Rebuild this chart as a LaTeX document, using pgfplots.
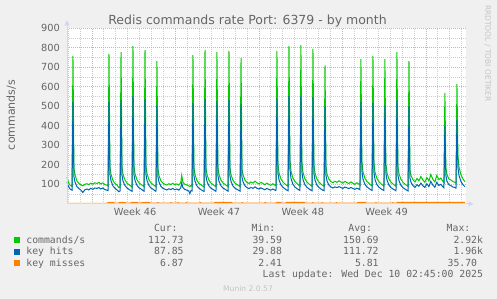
\documentclass[border=0pt]{standalone}
\usepackage{fontspec}
\setmainfont{DejaVu Sans}
\newfontfamily\monofont{DejaVu Sans Mono}
\usepackage{pgfplots}
\usepackage{pgfplotstable}
\pgfplotsset{compat=1.18}
\usetikzlibrary{arrows.meta}
\definecolor{bggray}{HTML}{F0F0F0}
\definecolor{fontgray}{HTML}{666666}
\definecolor{axiscol}{HTML}{CFD6F8}
\definecolor{cmdgreen}{HTML}{00CC00}
\definecolor{hitblue}{HTML}{0066B3}
\definecolor{missorange}{HTML}{FF8000}
\definecolor{mgrid}{HTML}{EBA5A5}
\definecolor{sgrid}{HTML}{CDCDCD}
\definecolor{wmgray}{HTML}{C4C4C4}

\pgfplotstableread{
x cmd hits
0.00 137 112
0.08 118 95
0.17 104 84
0.25 96 76
0.33 92 73
0.42 89 70
0.50 758 523
0.58 183 139
0.67 150 112
0.83 118 88
1.00 104 78
1.17 97 70
1.33 92 58
1.50 100 72
1.67 103 76
1.83 98 71
2.00 106 80
2.17 101 74
2.33 108 81
2.50 104 79
2.67 110 83
2.83 102 76
3.00 107 81
3.17 99 73
3.33 96 70
3.44 92 68
3.52 768 523
3.60 190 150
3.69 152 118
3.85 120 92
4.02 104 80
4.19 96 71
4.35 83 62
4.45 88 66
4.53 778 532
4.61 188 146
4.70 150 115
4.86 122 94
5.03 106 81
5.20 98 74
5.36 90 67
5.45 86 64
5.53 809 553
5.61 195 152
5.70 155 120
5.86 124 95
6.03 108 82
6.20 100 76
6.37 92 68
6.46 88 65
6.54 788 537
6.62 192 150
6.71 154 119
6.87 123 94
7.04 107 81
7.21 99 75
7.37 91 67
7.46 87 64
7.54 732 505
7.62 180 140
7.71 145 112
7.87 118 90
8.04 106 80
8.21 100 75
8.37 96 71
8.54 103 77
8.71 99 73
8.87 105 79
9.04 98 72
9.21 102 76
9.37 96 70
9.54 110 82
9.62 146 108
9.71 112 84
9.87 100 74
10.04 97 70
10.21 92 66
10.30 88 52
10.40 95 68
10.48 90 66
10.56 763 518
10.64 185 144
10.73 150 116
10.89 120 92
11.06 105 80
11.23 98 73
11.39 90 66
11.49 87 64
11.57 788 537
11.65 182 142
11.74 148 114
11.90 121 92
12.07 106 80
12.24 99 74
12.40 91 67
12.49 87 64
12.57 778 527
12.65 186 145
12.74 150 116
12.90 122 93
13.07 107 81
13.24 100 75
13.41 92 68
13.50 88 65
13.58 783 532
13.66 184 143
13.75 149 115
13.91 121 92
14.08 106 80
14.25 99 74
14.42 92 68
14.51 88 65
14.59 748 512
14.67 176 136
14.76 148 112
14.92 122 92
15.09 110 83
15.26 104 78
15.42 112 84
15.59 106 79
15.76 116 87
15.92 108 80
16.09 102 76
16.26 110 82
16.42 104 77
16.59 98 72
16.76 106 79
16.92 100 74
17.09 95 70
17.26 103 76
17.42 96 70
17.52 92 68
17.60 783 539
17.68 205 160
17.77 160 124
17.93 128 97
18.10 112 85
18.27 102 77
18.43 94 70
18.53 90 67
18.61 809 553
18.69 224 175
18.78 168 130
18.94 132 100
19.11 114 86
19.28 104 78
19.44 95 71
19.53 91 68
19.61 814 555
19.69 209 164
19.78 162 126
19.94 129 98
20.11 112 85
20.28 102 77
20.45 94 70
20.54 90 67
20.62 794 547
20.70 200 156
20.79 158 122
20.95 127 96
21.12 111 84
21.29 101 76
21.46 93 69
21.55 90 67
21.63 710 500
21.71 190 146
21.80 152 117
21.96 126 95
22.13 114 86
22.30 108 81
22.46 116 87
22.63 110 83
22.80 118 88
22.96 112 84
23.13 106 79
23.30 115 86
23.46 109 82
23.63 104 78
23.80 112 84
23.96 106 79
24.13 100 74
24.30 108 80
24.46 102 76
24.56 96 72
24.64 742 523
24.72 216 168
24.81 165 128
24.97 132 100
25.14 115 87
25.31 105 79
25.47 96 72
25.57 92 69
25.65 758 518
25.73 209 162
25.82 162 125
25.98 130 98
26.15 113 85
26.32 103 77
26.48 95 71
26.57 91 68
26.65 742 505
26.73 205 160
26.82 160 123
26.98 128 97
27.15 112 84
27.32 102 76
27.49 94 70
27.58 90 67
27.66 778 530
27.74 190 148
27.83 155 119
27.99 126 95
28.16 111 83
28.33 101 76
28.50 93 69
28.59 89 66
28.67 732 500
28.75 172 132
28.84 145 110
29.00 124 93
29.17 112 84
29.34 130 98
29.50 118 90
29.67 140 106
29.84 122 92
30.00 110 84
30.17 135 103
30.34 117 88
30.50 150 115
30.67 126 96
30.84 112 85
31.00 145 110
31.17 124 94
31.34 132 100
31.50 116 88
31.60 108 82
31.68 568 400
31.76 186 146
31.85 150 116
32.01 128 98
32.18 122 93
32.35 114 86
32.52 110 84
32.61 106 80
32.69 614 430
32.77 250 190
32.86 190 146
33.02 150 115
33.19 128 98
33.36 113 88
}\cmdtable

\pgfplotstableread{
x miss
0.0 2.4
3.3 2.6
3.5 7
3.9 7
4.0 3
4.3 3
4.4 7
4.9 6.5
5.0 3
5.3 3
5.4 7
5.9 7
6.0 3
6.4 6.5
6.9 7
7.0 3
7.5 3
7.6 6
7.8 3
8.6 3
8.7 6
8.8 3
9.2 3
9.3 6
9.4 3
9.9 3
10.0 6
10.1 3
11.1 3
11.2 6
11.3 3
12.3 3
12.4 7
13.8 7
13.9 3
14.6 3
14.7 6
14.8 3
16.5 3
16.6 6
16.8 3
17.5 3
17.6 7
17.9 7
18.0 3
18.3 3
18.4 7
19.9 7
20.0 3
20.5 3
20.6 6
20.7 3
21.3 3
21.4 6
21.5 3
22.5 3
22.6 6
22.7 3
24.3 3
24.4 7
25.0 7
25.1 3
25.8 3
25.9 6
26.0 3
27.2 3
27.3 6
27.4 3
27.6 3
27.7 7
29.0 7.5
30.5 7
31.5 7.5
33.36 6.9
}\misstable

\begin{document}
\begin{tikzpicture}[x=1pt,y=1pt]
\fill[bggray] (0,0) rectangle (497,299);
\begin{axis}[
  at={(67pt,95.2pt)}, anchor=south west,
  scale only axis, width=399pt, height=175.5pt,
  xmin=0, xmax=33.45, ymin=0, ymax=900,
  clip=false,
  axis background/.style={fill=white},
  axis line style={draw=none},
  xtick={2.1,9.1,16.1,23.1,30.1}, xticklabels={},
  minor xtick={0.1,1.1,...,33.1},
  ytick={100,200,...,900},
  minor ytick={50,150,...,850},
  grid=both,
  major grid style={mgrid, line width=1pt, dash pattern=on 1pt off 1pt},
  minor grid style={sgrid, line width=1pt, dash pattern=on 1pt off 1pt},
  tick style={draw=none},
  extra x ticks={5.71,12.74,19.77,26.8},
  extra x tick labels={Week 46,Week 47,Week 48,Week 49},
  extra x tick style={grid=none, tick style={draw=none}},
  ticklabel style={font=\fontsize{9.8}{10}\selectfont, text=fontgray},
  yticklabel style={inner sep=0pt, xshift=-7pt},
  xticklabel style={inner sep=0pt, yshift=-4.5pt},
  /pgf/number format/assume math mode=true,
]
\addplot[cmdgreen, line width=1pt, no markers] table[x=x, y=cmd] {\cmdtable};
\addplot[hitblue, line width=1pt, no markers] table[x=x, y=hits] {\cmdtable};
\addplot[missorange, line width=1pt, no markers] table[x=x, y=miss] {\misstable};
\draw[axiscol, line width=1pt, -{Triangle[length=5pt,width=5pt]}] (rel axis cs:0,0) -- ([xshift=7.5pt]rel axis cs:1,0);
\draw[axiscol, line width=1pt, -{Triangle[length=5pt,width=5pt]}] (rel axis cs:0,0) -- ([yshift=8pt]rel axis cs:0,1);
\end{axis}
% title
\node[anchor=base, inner sep=0pt, font=\fontsize{12.5}{13}\selectfont, text=fontgray] at (247.5,274.5) {Redis commands rate Port: 6379 - by month};
% y label
\node[rotate=90, inner sep=0pt, font=\fontsize{11}{12}\selectfont, text=fontgray] at (11.2,184) {commands/s};
% watermark
\node[rotate=-90, inner sep=0pt, font=\fontsize{7.5}{8}\selectfont, text=wmgray] at (487.7,245.5) {RRDTOOL / TOBI OETIKER};
% legend
\begin{scope}[every node/.style={inner sep=0pt, font=\monofont\fontsize{9.8}{10}\selectfont, text=fontgray}]
\node[anchor=base east] at (177.8,67.8) {Cur:};
\node[anchor=base east] at (275.5,67.8) {Min:};
\node[anchor=base east] at (372.2,67.8) {Avg:};
\node[anchor=base east] at (470.5,67.8) {Max:};
\fill[cmdgreen] (14,56.1) rectangle (20,62);
\fill[hitblue] (14,44.3) rectangle (20,50.2);
\fill[missorange] (14,32.6) rectangle (20,38.5);
\node[anchor=base west] at (26.2,55.8) {commands/s};
\node[anchor=base west] at (26.2,44.0) {key hits};
\node[anchor=base west] at (26.2,32.3) {key misses};
\node[anchor=base east] at (183.8,55.8) {112.73};
\node[anchor=base east] at (183.8,44.0) {87.85};
\node[anchor=base east] at (183.8,32.3) {6.87};
\node[anchor=base east] at (282.2,55.8) {39.59};
\node[anchor=base east] at (282.2,44.0) {29.88};
\node[anchor=base east] at (282.2,32.3) {2.41};
\node[anchor=base east] at (378.8,55.8) {150.69};
\node[anchor=base east] at (378.8,44.0) {111.72};
\node[anchor=base east] at (378.8,32.3) {5.81};
\node[anchor=base east] at (483.2,55.8) {2.92k};
\node[anchor=base east] at (483.2,44.0) {1.96k};
\node[anchor=base east] at (477.3,32.3) {35.70};
\node[anchor=base east] at (483.2,21.0) {Last update: Wed Dec 10 02:45:00 2025};
\end{scope}
\node[anchor=base, inner sep=0pt, font=\fontsize{7.6}{8}\selectfont, text=wmgray] at (248,7.6) {Munin 2.0.57};
\end{tikzpicture}
\end{document}
